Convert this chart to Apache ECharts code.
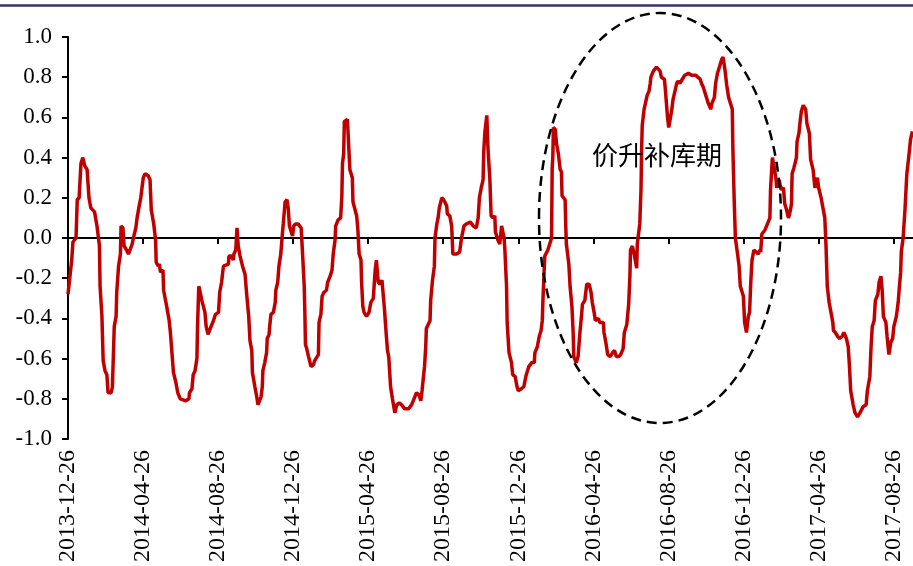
<!DOCTYPE html>
<html>
<head>
<meta charset="utf-8">
<script src="https://cdn.jsdelivr.net/npm/echarts@6/dist/echarts.min.js"></script>
<style>
  html, body { margin: 0; padding: 0; background: #fff; }
  #chart { width: 913px; height: 566px; }
</style>
</head>
<body>
<div id="chart"></div>
<script>
// days after 2013-12-26
var dayOffsets = [
  0, 6, 8, 13, 15, 18, 21, 24, 27, 31, 34, 37, 43, 47, 51, 52, 55, 57, 60, 63,
  65, 70, 72, 75, 78, 79, 82, 85, 86, 89, 91, 95, 98, 104, 106, 110, 112, 116, 118, 120,
  122, 125, 130, 133, 135, 139, 142, 143, 146, 148, 150, 154, 155, 160, 164, 166, 169, 171, 175, 178,
  182, 191, 196, 197, 201, 203, 206, 209, 210, 212, 213, 217, 222, 224, 227, 232, 236, 239, 244, 246,
  249, 252, 255, 260, 261, 265, 268, 269, 272, 274, 276, 279, 283, 287, 290, 293, 295, 298, 299, 303,
  306, 308, 313, 315, 316, 319, 322, 323, 326, 327, 329, 333, 336, 337, 340, 342, 345, 347, 349, 352,
  355, 357, 359, 361, 364, 366, 369, 373, 378, 380, 383, 384, 385, 387, 390, 394, 398, 400, 406, 407,
  410, 412, 415, 419, 421, 425, 428, 430, 433, 434, 438, 442, 444, 445, 447, 448, 453, 457, 461, 462,
  468, 470, 472, 475, 476, 478, 480, 484, 488, 491, 495, 498, 500, 503, 506, 509, 513, 515, 518, 520,
  523, 526, 530, 533, 537, 541, 546, 552, 557, 561, 565, 569, 572, 574, 578, 580, 581, 587, 588, 591,
  594, 595, 598, 600, 602, 606, 609, 614, 615, 619, 622, 624, 630, 635, 638, 642, 646, 652, 657, 662,
  665, 667, 670, 673, 674, 676, 679, 681, 684, 686, 689, 692, 693, 697, 700, 703, 705, 707, 708, 711,
  712, 715, 719, 721, 725, 728, 730, 735, 739, 741, 743, 747, 752, 756, 757, 761, 764, 767, 769, 770,
  772, 773, 778, 781, 784, 785, 786, 787, 790, 792, 795, 798, 800, 801, 806, 807, 808, 812, 814, 817,
  819, 820, 824, 827, 830, 833, 834, 838, 841, 845, 848, 850, 853, 855, 860, 862, 868, 869, 872, 875,
  879, 883, 886, 889, 893, 896, 900, 902, 906, 909, 911, 912, 915, 918, 922, 923, 927, 929, 930, 931,
  934, 937, 939, 942, 944, 945, 949, 954, 960, 962, 967, 969, 972, 974, 977, 979, 981, 984, 987, 989,
  992, 996, 1000, 1006, 1011, 1018, 1021, 1025, 1027, 1030, 1033, 1035, 1038, 1041, 1042, 1044, 1048, 1050, 1053, 1057,
  1060, 1062, 1065, 1068, 1071, 1075, 1077, 1078, 1080, 1082, 1086, 1088, 1090, 1093, 1095, 1097, 1100, 1103, 1105, 1107,
  1109, 1112, 1116, 1119, 1122, 1123, 1125, 1130, 1134, 1138, 1139, 1142, 1145, 1148, 1149, 1153, 1156, 1160, 1162, 1165,
  1168, 1170, 1173, 1174, 1177, 1181, 1182, 1185, 1187, 1189, 1192, 1196, 1198, 1202, 1204, 1208, 1211, 1215, 1217, 1221,
  1224, 1227, 1229, 1231, 1234, 1237, 1240, 1241, 1244, 1248, 1251, 1255, 1258, 1262, 1265, 1267, 1269, 1273, 1276, 1280,
  1284, 1289, 1294, 1296, 1300, 1302, 1304, 1307, 1309, 1313, 1315, 1318, 1320, 1322, 1326, 1328, 1331, 1334, 1337, 1339,
  1343, 1346, 1348, 1350, 1351, 1354, 1357, 1360, 1363, 1366, 1369
];

var values = [
  -0.28, -0.11, -0.02, 0.00, 0.19, 0.20, 0.37, 0.40, 0.36, 0.34, 0.20, 0.15, 0.13, 0.06, -0.04, -0.24, -0.39, -0.61, -0.66, -0.68,
  -0.77, -0.77, -0.74, -0.44, -0.39, -0.27, -0.14, -0.08, 0.06, 0.05, -0.04, -0.06, -0.08, -0.03, 0.00, 0.05, 0.10, 0.17, 0.20, 0.25,
  0.30, 0.32, 0.31, 0.29, 0.14, 0.07, -0.01, -0.12, -0.14, -0.13, -0.17, -0.16, -0.26, -0.34, -0.41, -0.47, -0.59, -0.67, -0.72, -0.77,
  -0.80, -0.81, -0.80, -0.77, -0.75, -0.68, -0.66, -0.60, -0.44, -0.24, -0.25, -0.31, -0.37, -0.44, -0.48, -0.44, -0.41, -0.38, -0.37, -0.27,
  -0.22, -0.14, -0.14, -0.13, -0.09, -0.09, -0.11, -0.08, -0.06, 0.05, -0.04, -0.09, -0.14, -0.18, -0.29, -0.39, -0.51, -0.56, -0.67, -0.74,
  -0.79, -0.83, -0.79, -0.74, -0.66, -0.62, -0.57, -0.50, -0.48, -0.44, -0.38, -0.37, -0.32, -0.26, -0.22, -0.14, -0.08, 0.00, 0.07, 0.18,
  0.19, 0.15, 0.06, 0.06, 0.01, 0.06, 0.07, 0.07, 0.05, -0.06, -0.24, -0.37, -0.53, -0.55, -0.59, -0.64, -0.63, -0.61, -0.58, -0.42,
  -0.38, -0.29, -0.27, -0.26, -0.22, -0.19, -0.16, -0.08, -0.01, 0.06, 0.09, 0.10, 0.21, 0.37, 0.42, 0.58, 0.59, 0.34, 0.30, 0.18,
  0.11, 0.04, -0.08, -0.11, -0.22, -0.34, -0.37, -0.39, -0.37, -0.32, -0.30, -0.16, -0.11, -0.22, -0.23, -0.21, -0.35, -0.44, -0.56, -0.59,
  -0.74, -0.80, -0.87, -0.83, -0.82, -0.83, -0.85, -0.85, -0.83, -0.80, -0.77, -0.78, -0.81, -0.76, -0.64, -0.54, -0.45, -0.41, -0.31, -0.21,
  -0.14, 0.00, 0.07, 0.10, 0.15, 0.20, 0.19, 0.16, 0.12, 0.11, 0.06, -0.08, -0.08, -0.07, 0.00, 0.06, 0.07, 0.08, 0.06, 0.05,
  0.10, 0.20, 0.25, 0.29, 0.43, 0.53, 0.61, 0.44, 0.29, 0.11, 0.10, 0.11, 0.03, -0.01, -0.03, 0.06, 0.06, 0.00, -0.04, -0.24,
  -0.42, -0.57, -0.62, -0.68, -0.69, -0.74, -0.76, -0.75, -0.74, -0.71, -0.68, -0.64, -0.62, -0.62, -0.57, -0.54, -0.49, -0.46, -0.41, -0.31,
  -0.16, -0.09, -0.06, -0.03, 0.00, 0.35, 0.40, 0.55, 0.54, 0.47, 0.42, 0.34, 0.33, 0.21, 0.19, 0.06, -0.03, -0.13, -0.24, -0.34,
  -0.47, -0.59, -0.62, -0.59, -0.47, -0.37, -0.33, -0.31, -0.23, -0.23, -0.27, -0.32, -0.37, -0.41, -0.40, -0.42, -0.42, -0.47, -0.52, -0.58,
  -0.59, -0.57, -0.56, -0.59, -0.59, -0.58, -0.55, -0.47, -0.43, -0.33, -0.19, -0.06, -0.04, -0.08, -0.15, -0.03, 0.07, 0.24, 0.44, 0.56,
  0.64, 0.64, 0.71, 0.73, 0.77, 0.80, 0.83, 0.85, 0.83, 0.80, 0.79, 0.72, 0.60, 0.55, 0.55, 0.64, 0.69, 0.73, 0.77, 0.78,
  0.77, 0.79, 0.81, 0.82, 0.81, 0.81, 0.80, 0.79, 0.77, 0.75, 0.72, 0.70, 0.67, 0.65, 0.64, 0.67, 0.70, 0.77, 0.82, 0.86,
  0.89, 0.90, 0.84, 0.76, 0.70, 0.66, 0.64, 0.44, 0.20, 0.00, -0.09, -0.14, -0.24, -0.27, -0.29, -0.42, -0.47, -0.39, -0.37, -0.22,
  -0.11, -0.06, -0.07, -0.08, -0.06, -0.07, 0.02, 0.04, 0.07, 0.10, 0.24, 0.40, 0.35, 0.29, 0.25, 0.29, 0.24, 0.25, 0.17, 0.14,
  0.10, 0.12, 0.17, 0.32, 0.35, 0.40, 0.48, 0.52, 0.58, 0.63, 0.66, 0.64, 0.57, 0.52, 0.39, 0.34, 0.25, 0.30, 0.25, 0.20,
  0.15, 0.10, -0.04, -0.24, -0.32, -0.37, -0.42, -0.46, -0.47, -0.49, -0.50, -0.49, -0.47, -0.50, -0.54, -0.64, -0.76, -0.83, -0.87, -0.89,
  -0.87, -0.84, -0.83, -0.76, -0.69, -0.54, -0.44, -0.41, -0.31, -0.28, -0.22, -0.19, -0.26, -0.39, -0.42, -0.49, -0.58, -0.52, -0.50, -0.44,
  -0.39, -0.32, -0.24, -0.17, -0.07, 0.00, 0.14, 0.32, 0.40, 0.49, 0.53
];

var tickDates = [
  '2013-12-26', '2014-04-26', '2014-08-26', '2014-12-26', '2015-04-26', '2015-08-26',
  '2015-12-26', '2016-04-26', '2016-08-26', '2016-12-26', '2017-04-26', '2017-08-26'
];

var startDate = '2013-12-26';
var endDate = '2017-09-26';

var DAY = 86400000;
function dayIndex(s) {
  var a = s.split('-'), b = startDate.split('-');
  return Math.round((Date.UTC(+a[0], +a[1] - 1, +a[2]) - Date.UTC(+b[0], +b[1] - 1, +b[2])) / DAY);
}

var tickDays = tickDates.map(dayIndex);
var labelOf = {};
tickDates.forEach(function (s, i) { labelOf[tickDays[i]] = s; });

var seriesData = dayOffsets.map(function (d, i) { return [d, values[i]]; });

var serif = '"Liberation Serif", "Times New Roman", serif';

var myChart = echarts.init(document.getElementById('chart'));
myChart.setOption({
  animation: false,
  backgroundColor: '#fff',
  grid: {
    left: 68,
    right: 0,
    top: 37,
    bottom: 127,
    containLabel: false,
    outerBoundsMode: 'none'
  },
  xAxis: [
    {
      type: 'value',
      position: 'bottom',
      min: 0,
      max: dayIndex(endDate),
      axisLine: { show: false, onZero: false },
      axisTick: { show: false },
      splitLine: { show: false },
      axisLabel: {
        rotate: 90,
        margin: 11,
        color: '#000',
        fontFamily: serif,
        fontSize: 24,
        customValues: tickDays,
        formatter: function (v) { return labelOf[v] || ''; }
      }
    },
    {
      type: 'value',
      position: 'top',
      min: 0,
      max: dayIndex(endDate),
      axisLine: {
        show: true,
        onZero: true,
        onZeroAxisIndex: 0,
        lineStyle: { color: '#000', width: 2 }
      },
      axisTick: {
        show: true,
        inside: true,
        length: 6,
        customValues: tickDays,
        lineStyle: { color: '#000', width: 2 }
      },
      axisLabel: { show: false },
      splitLine: { show: false }
    }
  ],
  yAxis: {
    type: 'value',
    min: -1,
    max: 1,
    interval: 0.2,
    splitLine: { show: false },
    axisLine: { show: true, onZero: false, lineStyle: { color: '#000', width: 2 } },
    axisTick: { show: true, length: 6, lineStyle: { color: '#000', width: 2 } },
    axisLabel: {
      color: '#000',
      fontFamily: serif,
      fontSize: 23,
      margin: 16,
      formatter: function (v) {
        return Math.abs(v) < 1e-9 ? '0.0' : v.toFixed(1);
      }
    }
  },
  series: [
    {
      name: 'index',
      type: 'line',
      xAxisIndex: 0,
      data: seriesData,
      symbol: 'none',
      lineStyle: { color: '#C00000', width: 3.5 },
      z: 3
    }
  ],
  graphic: [
    {
      type: 'line',
      shape: { x1: 0, y1: 5.5, x2: 913, y2: 5.5 },
      style: { stroke: '#36336b', lineWidth: 2.5 }
    },
    {
      type: 'ellipse',
      shape: { cx: 660, cy: 218, rx: 121, ry: 205 },
      style: { fill: null, stroke: '#000', lineWidth: 2.5, lineDash: [10, 6] },
      z: 10
    },
    {
      type: 'text',
      x: 592,
      y: 155,
      style: {
        text: '价升补库期',
        fill: '#000',
        font: '26px "Noto Sans CJK SC"',
        verticalAlign: 'middle'
      },
      z: 10
    }
  ]
});
</script>
</body>
</html>
